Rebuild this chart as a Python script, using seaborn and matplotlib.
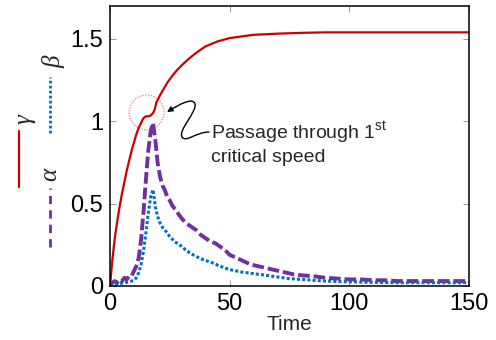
import matplotlib
matplotlib.use("Agg")
import matplotlib.pyplot as plt
import seaborn as sns
from matplotlib.lines import Line2D
from matplotlib.patches import Ellipse, FancyArrowPatch
from matplotlib.path import Path

# gamma (red, solid)
gamma_t = [0, 1, 2, 3, 4, 5, 6, 7, 8, 9, 10, 11, 12, 13, 14, 15, 16, 17, 18, 18.7,
           19.4, 20, 21, 22, 24, 26, 28, 30, 33, 36, 40, 45, 50, 55, 60, 70, 80, 90,
           100, 120, 150]
gamma = [0, 0.16, 0.29, 0.39, 0.48, 0.56, 0.63, 0.70, 0.76, 0.82, 0.87, 0.92, 0.96,
         0.99, 1.02, 1.03, 1.03, 1.035, 1.05, 1.07, 1.115, 1.13, 1.16, 1.185, 1.235,
         1.275, 1.31, 1.34, 1.38, 1.415, 1.455, 1.485, 1.505, 1.515, 1.525, 1.532,
         1.537, 1.54, 1.54, 1.54, 1.54]

# alpha (purple, dashed)
alpha_t = [0, 1, 2, 3, 4, 5, 6, 7, 8, 9, 10, 11, 12, 13, 14, 15, 16, 17, 18, 19, 20,
           21, 22, 23, 24, 25, 26, 27, 28, 29, 30, 32, 34, 36, 38, 40, 42, 44, 46, 48,
           50, 53, 56, 59, 62, 65, 68, 71, 74, 77, 80, 85, 90, 95, 100, 105, 110, 115,
           120, 125, 130, 135, 140, 145, 150]
alpha = [0.0, 0.02, 0.03, 0.02, 0.04, 0.03, 0.05, 0.04, 0.06, 0.06, 0.09, 0.12, 0.17,
         0.28, 0.45, 0.64, 0.82, 0.94, 0.99, 0.88, 0.74, 0.66, 0.61, 0.58, 0.54, 0.52,
         0.49, 0.47, 0.45, 0.43, 0.41, 0.38, 0.36, 0.34, 0.31, 0.29, 0.27, 0.26, 0.24,
         0.22, 0.19, 0.17, 0.15, 0.13, 0.12, 0.11, 0.10, 0.09, 0.08, 0.07, 0.065, 0.06,
         0.05, 0.045, 0.04, 0.04, 0.035, 0.035, 0.03, 0.03, 0.03, 0.03, 0.03, 0.03, 0.03]

# beta (blue, dotted)
beta_t = [0, 2, 4, 6, 8, 10, 11, 12, 13, 14, 15, 16, 17, 18, 19, 20, 21, 22, 23, 24,
          25, 26, 27, 28, 30, 32, 34, 36, 38, 40, 43, 46, 50, 55, 60, 65, 70, 75, 80,
          85, 90, 100, 110, 120, 130, 140, 150]
beta = [0, 0.01, 0.015, 0.02, 0.025, 0.035, 0.05, 0.08, 0.13, 0.21, 0.32, 0.44, 0.54,
        0.585, 0.48, 0.42, 0.38, 0.355, 0.34, 0.32, 0.30, 0.285, 0.27, 0.26, 0.24,
        0.215, 0.195, 0.18, 0.165, 0.155, 0.14, 0.12, 0.10, 0.085, 0.075, 0.066, 0.055,
        0.045, 0.04, 0.035, 0.03, 0.025, 0.022, 0.02, 0.02, 0.02, 0.02]

x_ticks = [0, 50, 100, 150]
y_ticks = [0, 0.5, 1, 1.5]
y_tick_labels = ["0", "0.5", "1", "1.5"]

RED = "#cc0000"
PURPLE = "#7030a0"
BLUE = "#0070c0"

sns.set_style("ticks")
plt.rcParams["font.family"] = ["Liberation Sans", "DejaVu Sans"]
plt.rcParams["mathtext.fontset"] = "custom"
plt.rcParams["mathtext.rm"] = "Liberation Sans"

W, H = 496, 340
fig = plt.figure(figsize=(W / 100, H / 100), dpi=100)
ax = fig.add_axes([110 / W, 1 - 286 / H, 358.5 / W, 280 / H])

sns.lineplot(x=alpha_t, y=alpha, ax=ax, color=PURPLE, lw=2.8,
             linestyle=(0, (3, 1.0)))
sns.lineplot(x=beta_t, y=beta, ax=ax, color=BLUE, lw=2.2,
             linestyle=(0, (1, 0.7)))
sns.lineplot(x=gamma_t, y=gamma, ax=ax, color=RED, lw=1.6)

ax.set_xlim(0, 150)
ax.set_ylim(0, 1.7)
ax.set_xticks(x_ticks)
ax.set_yticks(y_ticks)
ax.set_yticklabels(y_tick_labels)
ax.tick_params(direction="in", length=4, width=0.6, top=True, right=True,
               labelsize=17, pad=5, colors="#888888", labelcolor="black")
for s in ax.spines.values():
    s.set_linewidth(1.1)
    s.set_color("black")
ax.set_xlabel("Time", fontsize=15, labelpad=0)
ax.set_ylabel("")

# dotted circle marking the plateau
ax.add_patch(Ellipse((15.3, 1.054), 14.6, 0.212, fill=False, ec="#ff7070",
                     ls=(0, (1, 1.2)), lw=0.9))


def px(x, y):
    return ((x - 110) / 2.39, (286 - y) / 164.7)


verts = [px(209, 132), px(196, 132), px(186, 143), px(182, 137),
         px(178, 130), px(197, 112), px(195, 104),
         px(193, 97), px(180, 104), px(167, 112)]
codes = [Path.MOVETO] + [Path.CURVE4] * 9
ax.add_patch(FancyArrowPatch(path=Path(verts, codes), arrowstyle="-|>",
                             mutation_scale=8, lw=1.0, color="black"))

ax.text(42.4, 0.895, r"Passage through 1$^{\mathrm{st}}$", fontsize=14,
        ha="left", va="baseline")
ax.text(42.4, 0.754, "critical speed", fontsize=14, ha="left", va="baseline")


# rotated legend on the left
def fx(x):
    return x / W


def fy(y):
    return 1 - y / H


fig.add_artist(Line2D([fx(19.3), fx(19.3)], [fy(186.7), fy(130.7)], color=RED, lw=1.6))
fig.add_artist(Line2D([fx(50), fx(50)], [fy(133.3), fy(76.7)], color=BLUE, lw=2.0,
                      linestyle=(0, (1, 0.8))))
fig.add_artist(Line2D([fx(50), fx(50)], [fy(246.7), fy(188)], color=PURPLE, lw=2.0,
                      linestyle=(0, (3, 2.2))))
for lab, x, y in [("γ", 25, 119), ("β", 54, 62), ("α", 50, 174)]:
    fig.text(fx(x), fy(y), lab, rotation=90, ha="center", va="center",
             fontsize=18, family="Liberation Serif", style="italic")

fig.savefig("out.png", dpi=100)
